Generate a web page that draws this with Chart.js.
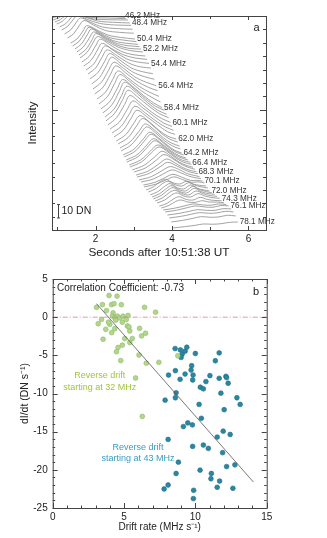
<!DOCTYPE html>
<html><head><meta charset="utf-8">
<script src="https://cdn.jsdelivr.net/npm/chart.js@4.4.1/dist/chart.umd.min.js"></script>
<style>
html,body{margin:0;padding:0;background:#fff;}
#wrap{position:relative;width:327px;height:538px;overflow:hidden;}
#c1{position:absolute;left:0;top:0;}
#c2{position:absolute;left:0;top:268px;}
</style></head><body>
<div id="wrap"><canvas id="c1" width="327" height="268"></canvas><canvas id="c2" width="327" height="270"></canvas></div>
<script>
const FONT = "'Liberation Sans', Arial, Helvetica, sans-serif";

// ---------- Panel a: stacked intensity profiles ----------
const timeTicks = [2, 4, 6];
const timeMinorTicks = [1, 3, 5];
const intensityTicks = [10,20,30,40,50,60,70,80,90,100,110,120,130,140,150];
const labelCurve = [0,4,8,12,16,20,24,28,32,36,40,44,48,52,56,60,64];
const labelText = ['46.2 MHz','48.4 MHz','50.4 MHz','52.2 MHz','54.4 MHz','56.4 MHz','58.4 MHz','60.1 MHz','62.0 MHz','64.2 MHz','66.4 MHz','68.3 MHz','70.1 MHz','72.0 MHz','74.3 MHz','76.1 MHz','78.1 MHz'];
// stacking offset of each channel (DN)
const offsets = [158.5,157.0,155.5,154.0,151.8,149.5,146.6,143.6,139.8,137.6,135.3,133.1,130.8,128.6,125.6,122.6,
119.6,116.6,112.9,109.2,105.4,101.7,97.9,94.2,90.5,87.5,84.5,81.5,78.5,75.5,72.5,69.5,
66.5,64.3,61.3,59.1,56.1,54.6,52.3,50.8,48.6,47.1,44.9,43.4,41.1,39.6,37.4,35.9,
33.6,32.2,29.9,28.4,26.2,24.7,23.2,21.7,20.2,17.9,16.4,15.0,13.5,11.2,9.0,6.0,1.5];
// [time (s), intensity above offset (DN)]
const profilesTop = [
[[.85,0],[1.00,1.2],[1.13,3.0],[1.25,4.0],[1.50,3.2],[1.85,2.2],[2.25,2.6],[2.72,1.5]],
[[.88,0],[1.03,1.5],[1.16,3.8],[1.28,5.0],[1.52,4.0],[1.85,2.5],[2.25,2.8],[2.77,2.0]],
[[.93,0],[1.08,1.8],[1.21,5.0],[1.33,7.0],[1.58,5.2],[1.90,3.4],[2.30,3.0],[2.80,2.5]],
[[.98,0],[1.13,2.0],[1.26,5.6],[1.38,8.0],[1.63,6.0],[1.95,3.8],[2.35,3.2],[2.85,3.0]],
[[1.06,0],[1.22,2.5],[1.36,7.0],[1.48,10.0],[1.73,7.5],[2.05,4.5],[2.45,3.5],[2.90,3.0]],
[[1.11,0],[1.27,2.8],[1.41,7.7],[1.53,11.0],[1.78,8.0],[2.10,5.0],[2.50,3.8],[2.93,3.5]],
[[1.19,0],[1.35,3.0],[1.49,8.4],[1.61,12.0],[1.86,8.8],[2.18,5.2],[2.55,4.0],[2.97,3.5]],
[[1.27,0],[1.43,3.2],[1.57,9.1],[1.70,13.0],[1.95,9.5],[2.27,5.5],[2.62,4.2],[3.00,3.5]],
[[1.35,0],[1.52,3.2],[1.67,9.0],[1.77,13.0],[2.02,10.0],[2.32,6.0],[2.65,4.2],[3.03,3.0]],
[[1.40,0],[1.57,3.5],[1.72,9.8],[1.83,14.0],[2.08,10.5],[2.38,6.2],[2.70,4.5],[3.07,3.2]],
[[1.46,0],[1.63,3.8],[1.78,10.5],[1.89,15.0],[2.14,11.0],[2.44,6.5],[2.76,4.5],[3.11,3.5]],
[[1.51,0],[1.68,3.8],[1.84,10.5],[1.95,15.0],[2.20,11.5],[2.50,7.0],[2.82,4.8],[3.15,4.0]],
[[1.56,0],[1.74,4.0],[1.90,11.0],[2.01,16.0],[2.26,12.0],[2.56,7.5],[2.88,5.0],[3.19,4.5]],
[[1.59,0],[1.77,4.0],[1.93,11.2],[2.05,16.0],[2.30,12.5],[2.60,8.0],[2.92,5.5],[3.24,4.5]],
[[1.64,0],[1.83,4.2],[2.00,12.0],[2.12,17.0],[2.37,13.0],[2.67,8.0],[2.98,5.5],[3.30,4.5]],
[[1.69,0],[1.88,4.2],[2.05,12.0],[2.17,17.0],[2.42,13.0],[2.72,8.5],[3.03,6.0],[3.35,5.0]]];
const profilesMid = [
[[1.75,0],[1.95,4.5],[2.12,12.6],[2.25,18],[2.50,14],[2.80,8.5],[3.10,6],[3.40,5.0]],
[[1.80,0],[2.00,4.5],[2.17,12.6],[2.30,18],[2.55,14],[2.85,8.5],[3.15,5.5],[3.45,4.5]],
[[1.85,0],[2.06,4.8],[2.24,13.3],[2.37,19],[2.62,14.5],[2.92,8.5],[3.22,5.5],[3.50,4.0]],
[[1.90,0],[2.11,5],[2.29,14],[2.42,20],[2.67,15],[2.97,9],[3.27,5.5],[3.54,3.5]],
[[1.93,0],[2.15,5],[2.34,14],[2.48,20],[2.73,15.5],[3.03,9],[3.33,5],[3.59,2.5]],
[[1.98,0],[2.20,5.2],[2.39,14.7],[2.53,21],[2.78,16],[3.08,9.5],[3.38,5],[3.62,2.5]],
[[2.04,0],[2.26,5.2],[2.45,14.7],[2.59,21],[2.84,16],[3.14,9.5],[3.42,5],[3.66,2.0]],
[[2.09,0],[2.31,5.5],[2.50,15.4],[2.64,22],[2.89,17],[3.19,10],[3.47,5],[3.70,1.5]],
[[2.14,0],[2.37,5.5],[2.57,15.4],[2.71,22],[2.96,17],[3.26,10],[3.52,4.5],[3.74,1.0]],
[[2.19,0],[2.42,5.8],[2.62,16],[2.76,23],[3.01,18],[3.31,10.5],[3.57,5],[3.80,2.0]],
[[2.25,0],[2.48,5.8],[2.68,16],[2.82,23],[3.07,18],[3.37,10.5],[3.63,5],[3.86,2.0]],
[[2.27,0],[2.50,5.8],[2.71,16],[2.85,23],[3.10,18],[3.40,11],[3.67,5.5],[3.91,2.5]],
[[2.32,0],[2.55,5.5],[2.76,15.4],[2.90,22],[3.15,17],[3.45,10],[3.72,5],[3.96,2.0]],
[[2.38,0],[2.62,5.2],[2.83,14.7],[2.98,21],[3.23,16],[3.53,9.5],[3.78,4.5],[4.00,2.0]],
[[2.43,0],[2.67,5],[2.88,14],[3.03,20],[3.28,15.5],[3.58,9],[3.83,4.5],[4.04,2.0]],
[[2.48,0],[2.72,5],[2.93,14],[3.08,20],[3.33,15.5],[3.63,9],[3.88,4],[4.08,2.0]]];
const profilesLow = [
[[2.54,0],[2.79,4.8],[3.00,13.3],[3.16,19],[3.40,14.5],[3.66,8],[3.90,3.5],[4.11,1.5]],
[[2.59,0],[2.85,4.8],[3.07,13.3],[3.23,19],[3.47,14.5],[3.72,8],[3.95,3.5],[4.15,1.5]],
[[2.64,0],[2.90,4.5],[3.14,12.6],[3.30,18],[3.54,13.5],[3.78,7.5],[4.00,3.5],[4.20,1.5]],
[[2.67,0],[2.93,4.5],[3.17,12.6],[3.34,18],[3.57,13.5],[3.81,7.5],[4.03,3.5],[4.22,1.5]],
[[2.72,0],[3.00,4.2],[3.25,12],[3.42,17],[3.64,13],[3.87,7.5],[4.07,3.5],[4.25,1.5]],
[[2.75,0],[3.03,4.2],[3.28,12],[3.45,17],[3.67,13],[3.90,7.5],[4.11,3.5],[4.31,1.5]],
[[2.80,0],[3.09,4],[3.34,11.2],[3.52,16],[3.74,12],[3.97,7],[4.17,3.5],[4.37,1.5]],
[[2.82,0],[3.11,4],[3.36,11.2],[3.55,16],[3.77,12],[4.00,7],[4.21,3.5],[4.42,1.5]],
[[2.88,0],[3.18,3.8],[3.44,10.5],[3.63,15],[3.85,11.5],[4.08,6.5],[4.28,3.5],[4.48,2.0]],
[[2.90,0],[3.20,3.8],[3.46,10.5],[3.66,15],[3.88,11.5],[4.11,6.5],[4.31,3.5],[4.51,2.0]],
[[2.96,0],[3.27,3.5],[3.55,9.8],[3.74,14],[3.96,10.5],[4.18,6],[4.37,3.5],[4.55,2.0]],
[[3.01,0],[3.32,3.2],[3.60,9.1],[3.79,13],[4.01,10],[4.23,6],[4.42,3.5],[4.60,2.0]],
[[3.06,0],[3.38,3],[3.66,8.4],[3.86,12],[4.08,9],[4.29,5.5],[4.47,3.5],[4.64,2.5]],
[[3.09,0],[3.41,2.8],[3.69,7.7],[3.89,11],[4.11,8.5],[4.32,5.5],[4.50,3.5],[4.68,2.5]],
[[3.14,0],[3.46,2.5],[3.74,7],[3.95,10],[4.17,8],[4.38,5],[4.56,3.5],[4.72,2.5]],
[[3.19,0],[3.51,2.2],[3.79,6.3],[4.00,9],[4.22,7],[4.43,4.5],[4.61,3.2],[4.76,2.5]]];
const profilesBottom = [
[[3.25,0],[3.55,2],[3.82,5.6],[4.02,8],[4.25,6],[4.48,3.5],[4.65,3.5],[4.80,3.0]],
[[3.27,0],[3.57,2],[3.85,5.3],[4.05,7.5],[4.28,5.5],[4.50,3.5],[4.68,3.8],[4.85,3.0]],
[[3.32,0],[3.52,2.5],[3.70,6.5],[3.84,8],[4.02,5.5],[4.20,4.5],[4.38,6.5],[4.55,4.5],[4.72,3.5],[4.89,3.0]],
[[3.38,0],[3.58,2.5],[3.76,6.5],[3.90,8],[4.08,5.5],[4.26,4.5],[4.44,7],[4.61,5],[4.78,3.8],[4.94,3.0]],
[[3.43,0],[3.63,2.5],[3.81,6.5],[3.95,8.5],[4.13,5.5],[4.31,4.5],[4.49,7.5],[4.66,5],[4.83,3.8],[4.98,3.0]],
[[3.48,0],[3.68,2.5],[3.86,6.5],[4.00,8.5],[4.18,5.5],[4.36,4.5],[4.55,8],[4.72,5.5],[4.90,4],[5.05,3.0]],
[[3.51,0],[3.71,2.5],[3.89,6.5],[4.03,8.5],[4.21,5.5],[4.39,4.5],[4.58,8],[4.76,5.5],[4.95,4],[5.12,3.5]],
[[3.56,0],[3.76,2.5],[3.94,6.5],[4.08,8],[4.26,5.5],[4.44,4.5],[4.63,7.5],[4.81,5.5],[5.00,4],[5.18,3.5]],
[[3.61,0],[3.81,2.2],[3.99,6],[4.13,7.5],[4.31,5.2],[4.49,4.5],[4.68,7],[4.86,5.2],[5.05,4],[5.25,3.5]],
[[3.67,0],[3.87,2],[4.05,5.5],[4.19,7],[4.37,5],[4.55,4.5],[4.74,6.5],[4.92,5],[5.11,4.2],[5.30,4.0]],
[[3.72,0],[3.92,2],[4.10,5],[4.24,6],[4.42,4.5],[4.60,4.2],[4.79,5.5],[4.97,4.5],[5.17,4.5],[5.36,4.0]],
[[3.77,0],[4.07,1.3],[4.35,3.2],[4.56,4.5],[4.79,3.8],[5.02,3.5],[5.22,4.5],[5.42,4.0]],
[[3.82,0],[4.12,1.3],[4.40,3.2],[4.61,4.5],[4.84,3.8],[5.07,3.5],[5.28,4.8],[5.48,4.5]],
[[3.88,0],[4.18,1.2],[4.46,2.8],[4.67,4],[4.90,3.5],[5.13,3.5],[5.34,4.8],[5.55,4.5]],
[[3.93,0],[4.23,1.2],[4.51,2.8],[4.72,4],[4.95,3.5],[5.18,3.8],[5.40,5],[5.61,4.5]],
[[3.98,0],[4.28,1.2],[4.56,2.8],[4.77,4],[5.00,3.5],[5.23,3.8],[5.45,5],[5.67,4.5]],
[[4.03,0],[4.33,1],[4.61,2],[4.82,3],[5.05,2.8],[5.28,3.2],[5.50,4.2],[5.72,4.5]]];
const profiles = profilesTop.concat(profilesMid, profilesLow, profilesBottom);
const scaleBarTime = 1.02, scaleBarDN = [9, 19];

// ---------- Panel b: scatter ----------
const greenDrift = [3.07,3.49,3.95,4.51,4.12,4.30,4.81,3.77,4.23,3.19,3.42,3.72,4.00,3.91,4.19,4.35,4.42,4.53,4.70,4.93,5.28,5.16,5.23,5.35,5.40,4.88,4.35,4.14,5.05,5.58,3.53,4.58,4.88,4.47,5.40,6.09,6.23,6.51,6.05,4.77,6.56,7.44,6.44,7.21,5.81,6.28,8.77];
const greenRate = [1.29,1.64,2.84,2.76,1.64,1.77,1.64,0.86,0.56,-0.86,-0.30,-1.59,-0.95,-0.65,0.13,-0.09,-0.39,0.13,-0.09,0.13,0.22,-0.30,-1.16,-1.29,-1.81,-0.65,-1.51,-2.03,-2.80,-2.80,-2.89,-3.97,-3.66,-4.53,-3.32,-1.47,-2.46,-2.11,-4.96,-5.69,-6.03,-5.91,1.29,0.65,-7.97,-13.0,-5.06];
const blueDrift = [8.58,8.95,9.28,9.40,9.07,9.00,10.00,11.67,11.40,9.74,9.70,8.12,8.60,9.28,8.93,9.84,9.81,11.02,10.74,11.67,12.14,12.19,12.30,10.35,10.56,11.79,8.65,8.60,7.88,12.91,13.14,10.26,12.02,10.42,9.16,9.47,9.79,11.95,12.44,11.53,8.09,9.81,10.56,10.91,11.91,8.81,12.77,12.19,10.33,11.12,8.65,11.09,11.70,8.09,7.81,11.53,9.88,12.63,9.86];
const blueRate = [-4.11,-4.29,-4.46,-3.94,-4.85,-5.28,-4.76,-4.68,-5.71,-6.36,-6.93,-7.58,-7.01,-7.45,-8.14,-7.58,-8.23,-7.66,-8.44,-8.01,-7.75,-7.92,-8.66,-9.18,-9.39,-9.96,-9.91,-10.56,-10.87,-10.56,-11.43,-11.43,-12.12,-13.25,-14.33,-13.85,-14.11,-14.94,-15.37,-15.71,-16.02,-16.93,-16.75,-17.19,-17.75,-19.0,-19.35,-19.57,-20.04,-20.48,-20.48,-21.17,-21.47,-21.99,-22.51,-22.29,-22.68,-22.42,-23.77];
const fitDrift = [3.07, 14.07], fitRate = [1.77, -21.6];
const zeroDrift = [0, 15], zeroRate = [0, 0];
const driftTicks = [0, 5, 10, 15];
const rateTicks = [5, 0, -5, -10, -15, -20, -25];

const pts = (xs, ys) => xs.map((x, i) => ({x, y: ys[i]}));

function drawTicks(ctx, a, scale, values, len, horizontal) {
  values.forEach(v => {
    const p = Math.round(scale.getPixelForValue(v)) + 0.5;
    if (horizontal) {
      ctx.moveTo(p, a.bottom); ctx.lineTo(p, a.bottom - len);
      ctx.moveTo(p, a.top); ctx.lineTo(p, a.top + len);
    } else {
      ctx.moveTo(a.left, p); ctx.lineTo(a.left + len, p);
      ctx.moveTo(a.right, p); ctx.lineTo(a.right - len, p);
    }
  });
}

const panelA = {
  id: 'panelA',
  afterDatasetsDraw(chart) {
    const {ctx, chartArea: a, scales: {x, y}} = chart;
    ctx.save();
    ctx.strokeStyle = '#444'; ctx.lineWidth = 1;
    ctx.strokeRect(a.left + 0.5, a.top + 0.5, a.right - a.left, a.bottom - a.top);
    ctx.beginPath();
    drawTicks(ctx, a, x, timeTicks, 4, true);
    drawTicks(ctx, a, x, timeMinorTicks, 3, true);
    drawTicks(ctx, a, y, intensityTicks.filter(v => v !== 90), 3, false);
    drawTicks(ctx, a, y, [90], 6, false);
    ctx.stroke();
    // scale bar
    const bx = Math.round(x.getPixelForValue(scaleBarTime)) + 0.5;
    const b0 = y.getPixelForValue(scaleBarDN[0]), b1 = y.getPixelForValue(scaleBarDN[1]);
    ctx.beginPath();
    ctx.moveTo(bx, b0); ctx.lineTo(bx, b1);
    ctx.moveTo(bx - 1.5, b0); ctx.lineTo(bx + 1.5, b0);
    ctx.moveTo(bx - 1.5, b1); ctx.lineTo(bx + 1.5, b1);
    ctx.stroke();
    ctx.fillStyle = '#222';
    ctx.font = `10.5px ${FONT}`; ctx.textBaseline = 'middle'; ctx.textAlign = 'left';
    ctx.fillText('10 DN', bx + 3, (b0 + b1) / 2);
    ctx.font = `11px ${FONT}`; ctx.textAlign = 'center';
    ctx.fillText('a', x.getPixelForValue(6.21), y.getPixelForValue(151));
    // channel labels at curve ends
    ctx.font = `8.2px ${FONT}`; ctx.textAlign = 'left'; ctx.fillStyle = '#333';
    labelCurve.forEach((k, i) => {
      const p = profiles[k]; const last = p[p.length - 1];
      ctx.fillText(labelText[i], x.getPixelForValue(last[0]) + 2, y.getPixelForValue(offsets[k] + last[1]));
    });
    ctx.restore();
  }
};

new Chart(document.getElementById('c1'), {
  type: 'scatter',
  data: { datasets: profiles.map((p, k) => ({
    data: p.map(q => ({x: q[0], y: offsets[k] + q[1]})),
    showLine: true, borderColor: '#8c8c8c', borderWidth: 0.8, pointRadius: 0, tension: 0.35, fill: false
  })) },
  options: {
    responsive: false, animation: false, events: [],
    layout: { padding: { left: 0, right: 61, top: 16, bottom: 0 } },
    plugins: { legend: {display: false}, tooltip: {enabled: false} },
    scales: {
      x: { type: 'linear', min: 0.86, max: 6.46,
        grid: {display: false, drawTicks: false}, border: {display: false},
        afterBuildTicks: s => { s.ticks = timeTicks.map(v => ({value: v})); },
        afterFit: s => { s.height = 38; },
        ticks: { color: '#222', font: {family: FONT, size: 10}, padding: 3, maxRotation: 0 },
        title: { display: true, text: 'Seconds after 10:51:38 UT', color: '#222', font: {family: FONT, size: 11.8}, padding: {top: 0, bottom: 8} } },
      y: { type: 'linear', min: 0, max: 160,
        grid: {display: false, drawTicks: false}, border: {display: false}, ticks: {display: false},
        afterFit: s => { s.width = 52; },
        title: { display: true, text: 'Intensity', color: '#222', font: {family: FONT, size: 11.5}, padding: {top: 26, bottom: 0} } }
    }
  },
  plugins: [panelA]
});

const panelB = {
  id: 'panelB',
  afterDatasetsDraw(chart) {
    const {ctx, chartArea: a, scales: {x, y}} = chart;
    ctx.save();
    ctx.strokeStyle = '#444'; ctx.lineWidth = 1;
    ctx.strokeRect(a.left + 0.5, a.top + 0.5, a.right - a.left, a.bottom - a.top);
    ctx.beginPath();
    drawTicks(ctx, a, x, driftTicks, 5, true);
    drawTicks(ctx, a, x, [1,2,3,4,6,7,8,9,11,12,13,14], 2.5, true);
    drawTicks(ctx, a, y, rateTicks, 5, false);
    drawTicks(ctx, a, y, [4,3,2,1,-1,-2,-3,-4,-6,-7,-8,-9,-11,-12,-13,-14,-16,-17,-18,-19,-21,-22,-23,-24], 2.5, false);
    ctx.stroke();
    ctx.fillStyle = '#222'; ctx.textBaseline = 'middle';
    ctx.font = `10px ${FONT}`; ctx.textAlign = 'left';
    ctx.fillText('Correlation Coefficient: -0.73', x.getPixelForValue(0.3), y.getPixelForValue(3.8));
    ctx.font = `11px ${FONT}`; ctx.textAlign = 'center';
    ctx.fillText('b', x.getPixelForValue(14.25), y.getPixelForValue(3.3));
    ctx.font = `9px ${FONT}`;
    ctx.fillStyle = '#a2c43c';
    ctx.fillText('Reverse drift', x.getPixelForValue(3.3), y.getPixelForValue(-7.7));
    ctx.fillText('starting at 32 MHz', x.getPixelForValue(3.3), y.getPixelForValue(-9.25));
    ctx.fillStyle = '#3a9cc0';
    ctx.fillText('Reverse drift', x.getPixelForValue(5.98), y.getPixelForValue(-17.1));
    ctx.fillText('starting at 43 MHz', x.getPixelForValue(5.98), y.getPixelForValue(-18.5));
    ctx.restore();
  }
};

new Chart(document.getElementById('c2'), {
  type: 'scatter',
  data: { datasets: [
    { data: pts(fitDrift, fitRate), showLine: true, borderColor: '#555', borderWidth: 0.8, pointRadius: 0 },
    { data: pts(zeroDrift, zeroRate), showLine: true, borderColor: '#e07a90', borderWidth: 0.8, borderDash: [5,2,1,2], pointRadius: 0 },
    { data: pts(greenDrift, greenRate), pointRadius: 2.4, pointBackgroundColor: '#b2d68c', pointBorderColor: '#8cbb66', pointBorderWidth: 0.6 },
    { data: pts(blueDrift, blueRate), pointRadius: 2.4, pointBackgroundColor: '#2b86a2', pointBorderColor: '#1f6f88', pointBorderWidth: 0.6 }
  ] },
  options: {
    responsive: false, animation: false, events: [],
    layout: { padding: { left: 0, right: 60.3, top: 7.5, bottom: 0 } },
    plugins: { legend: {display: false}, tooltip: {enabled: false} },
    scales: {
      x: { type: 'linear', min: 0, max: 15,
        grid: {display: false, drawTicks: false}, border: {display: false},
        afterBuildTicks: s => { s.ticks = driftTicks.map(v => ({value: v})); },
        afterFit: s => { s.height = 30; },
        ticks: { color: '#222', font: {family: FONT, size: 10}, padding: 3, maxRotation: 0 },
        title: { display: true, text: 'Drift rate (MHz s\u207B\u00B9)', color: '#222', font: {family: FONT, size: 10}, padding: {top: 0, bottom: 5} } },
      y: { type: 'linear', min: -25, max: 5,
        grid: {display: false, drawTicks: false}, border: {display: false},
        afterBuildTicks: s => { s.ticks = rateTicks.map(v => ({value: v})); },
        afterFit: s => { s.width = 52.7; },
        ticks: { color: '#222', font: {family: FONT, size: 10}, padding: 5 },
        title: { display: true, text: 'dI/dt (DN s\u207B\u00B9)', color: '#222', font: {family: FONT, size: 10.5}, padding: {top: 18.7, bottom: 0} } }
    }
  },
  plugins: [panelB]
});
</script>
</body></html>
